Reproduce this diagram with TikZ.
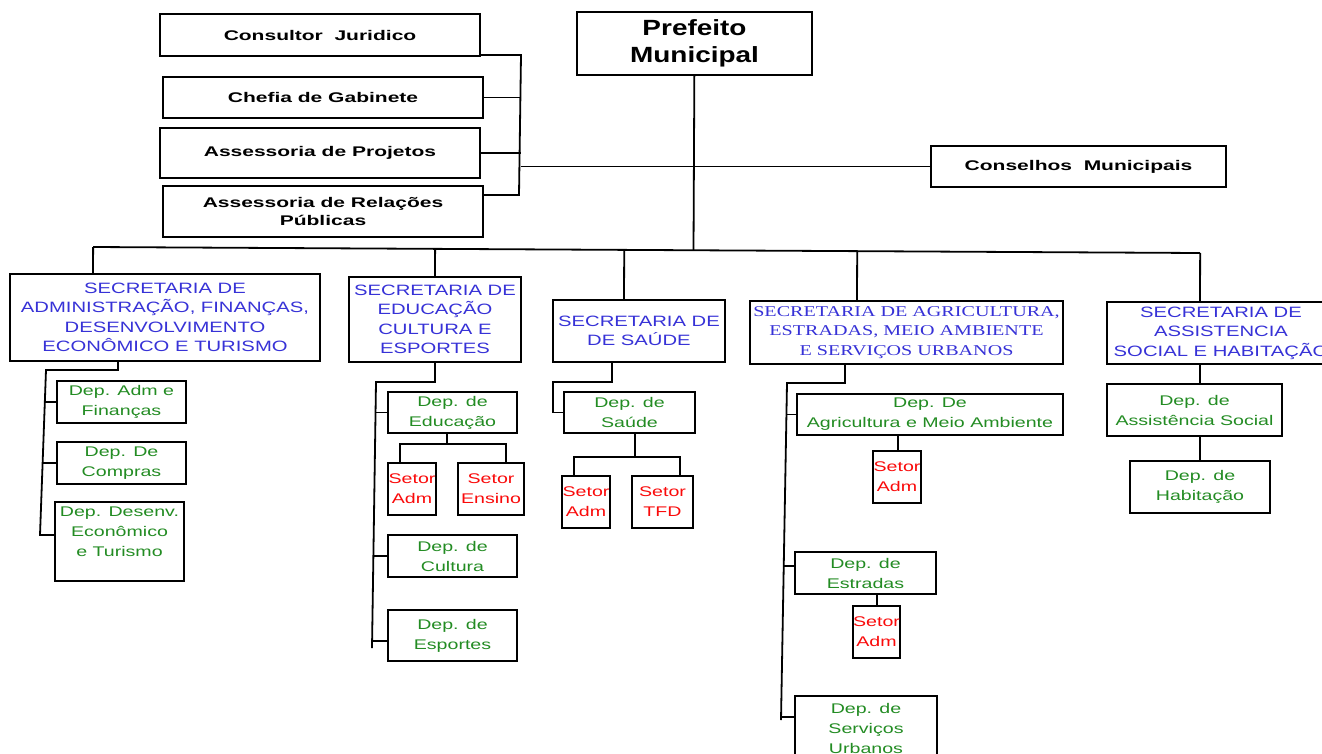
\documentclass[tikz,border=0pt]{standalone}
\usepackage{fontspec}
\setmainfont{Liberation Sans}
\newfontfamily\topfont[FakeStretch=1.5]{Liberation Sans}
\newfontfamily\chieffont[FakeStretch=1.27]{Liberation Sans}
\newfontfamily\secfont[FakeStretch=1.35]{Liberation Sans}
\newfontfamily\agrfont[FakeStretch=1.34]{Liberation Serif}
\newfontfamily\depfont[FakeStretch=1.4]{Liberation Sans}
\usetikzlibrary{calc}
\definecolor{secblue}{RGB}{55,50,215}
\definecolor{depgreen}{RGB}{35,140,35}
\definecolor{setred}{RGB}{250,10,10}
\begin{document}
\begin{tikzpicture}[x=1pt,y=-1pt,line width=1.8pt,
	box/.style={draw,line width=2.1pt,inner sep=0pt,align=center},
	topbox/.style={box,font=\topfont\bfseries\fontsize{14}{18}\selectfont},
	secbox/.style={box,text=secblue,font=\secfont\fontsize{15}{19.5}\selectfont},
	depbox/.style={box,text=depgreen,font=\depfont\fontsize{14}{20}\selectfont},
	setbox/.style={box,text=setred,font=\depfont\fontsize{14}{20}\selectfont}]
	\clip (0,0) rectangle (1322,753);
	\fill[white] (0,0) rectangle (1322,753);
	\node[topbox,minimum width=320,minimum height=42] (juridico) at (320,35) {Consultor\ \ Juridico};
	\node[topbox,minimum width=320,minimum height=41] (gabinete) at (323,97.5) {Chefia de Gabinete};
	\node[topbox,minimum width=320,minimum height=50] (projetos) at (320,153) {Assessoria de Projetos};
	\node[topbox,minimum width=320,minimum height=51] (relacoes) at (323,211.5) {Assessoria de Relações\\Públicas};
	\node[box,font=\chieffont\bfseries\fontsize{22}{27}\selectfont,minimum width=235,minimum height=63] (prefeito) at (694.5,43.5) {Prefeito\\Municipal};
	\node[topbox,minimum width=295,minimum height=41] (conselhos) at (1078.5,166.5) {Conselhos\ \ Municipais};
	\coordinate (brkT) at (521,55);
	\coordinate (brkB) at (519,195);
	\draw (juridico.east |- brkT) -- (brkT) -- (brkB) -- (relacoes.east |- brkB);
	\draw (gabinete) -- (gabinete -| brkT);
	\draw (projetos) -- (projetos -| brkT);
	\draw (brkT |- conselhos) -- (conselhos);
	\coordinate (busL) at (93,247);
	\coordinate (busR) at (1200,253);
	\draw (busL) -- (busR);
	\draw (prefeito) -- ($(busL)!(prefeito.south)!(busR)$);
	\node[secbox,minimum width=310,minimum height=87] (s1) at (165,317.5) {SECRETARIA DE\\ADMINISTRAÇÃO, FINANÇAS,\\DESENVOLVIMENTO\\ECONÔMICO E TURISMO};
	\node[secbox,minimum width=172,minimum height=85] (s2) at (435,319.5) {SECRETARIA DE\\EDUCAÇÃO\\CULTURA E\\ESPORTES};
	\node[secbox,minimum width=172,minimum height=62] (s3) at (639,331) {SECRETARIA DE\\DE SAÚDE};
	\node[secbox,font=\agrfont\fontsize{15}{19.5}\selectfont,minimum width=313,minimum height=63] (s4) at (906.5,332.5) {SECRETARIA DE AGRICULTURA,\\ESTRADAS, MEIO AMBIENTE\\E SERVIÇOS URBANOS};
	\node[secbox,minimum width=228,minimum height=62] (s5) at (1221,333) {SECRETARIA DE\\ASSISTENCIA\\SOCIAL E HABITAÇÃO};
	\foreach \s/\x in {s1/93,s2/435,s3/624,s4/857,s5/1200}
		\draw (\s.north -| \x,0) -- ($(busL)!(\s.north -| \x,0)!(busR)$);
	\node[depbox,minimum width=129,minimum height=42] (adm) at (121.5,402) {Dep. Adm e\\Finanças};
	\node[depbox,minimum width=129,minimum height=42] (compras) at (121.5,463) {Dep. De\\Compras};
	\node[depbox,minimum width=129,minimum height=79] (desenv) at (119.5,541.5) {Dep. Desenv.\\Econômico\\e Turismo\\\mbox{}};
	\draw (s1.south -| 118,0) |- (46,370) -- (40,535) -- (desenv.west |- 0,535);
	\draw (adm.west) -- (adm.west -| 45,0);
	\draw (compras.west) -- (compras.west -| 43,0);
	\node[depbox,minimum width=129,minimum height=41] (educ) at (452.5,412.5) {Dep. de\\Educação};
	\node[setbox,minimum width=48,minimum height=52] (setadm2) at (412,489) {Setor\\Adm};
	\node[setbox,minimum width=66,minimum height=52] (setens) at (491,489) {Setor\\Ensino};
	\node[depbox,minimum width=129,minimum height=42] (cultura) at (452.5,556) {Dep. de\\Cultura};
	\node[depbox,minimum width=129,minimum height=51] (esportes) at (452.5,635.5) {Dep. de\\Esportes};
	\draw (s2.south) |- (376,382) -- (372,648);
	\draw (educ.west) -- (educ.west -| 375,0);
	\draw (cultura.west) -- (cultura.west -| 373,0);
	\draw (esportes.west |- 0,641) -- (372,641);
	\draw (educ.south -| 447,0) -- (447,444);
	\draw (setadm2.north -| 400,0) |- (506,444) -- (setens.north -| 506,0);
	\node[depbox,minimum width=131,minimum height=41] (saude) at (629.5,412.5) {Dep. de\\Saúde};
	\node[setbox,minimum width=48,minimum height=52] (setadm3) at (586,502) {Setor\\Adm};
	\node[setbox,minimum width=61,minimum height=52] (settfd) at (662.5,502) {Setor\\TFD};
	\draw (s3.south -| 612,0) |- (553,382) |- (saude.west);
	\draw (saude.south -| 635,0) -- (635,457);
	\draw (setadm3.north -| 574,0) |- (680,457) -- (settfd.north -| 680,0);
	\node[depbox,minimum width=266,minimum height=41] (agri) at (930,414.5) {Dep. De\\Agricultura e Meio Ambiente};
	\node[setbox,minimum width=48,minimum height=52] (setadm4) at (897,477) {Setor\\Adm};
	\node[depbox,minimum width=141,minimum height=42] (estradas) at (865.5,573) {Dep. de\\Estradas};
	\node[setbox,minimum width=47,minimum height=52] (setadm5) at (876.5,632) {Setor\\Adm};
	\node[depbox,minimum width=142,minimum height=64] (servicos) at (866,728) {Dep. de\\Serviços\\Urbanos};
	\draw (s4.south -| 845,0) |- (787,383) -- (781,720);
	\draw (agri.west) -- (agri.west -| 786,0);
	\draw (estradas.west |- 0,566) -- (784,566);
	\draw (servicos.west |- 0,717) -- (781,717);
	\draw (agri.south -| 898,0) -- (setadm4.north -| 898,0);
	\draw (estradas.south -| 877,0) -- (setadm5.north -| 877,0);
	\node[depbox,minimum width=175,minimum height=52] (asoc) at (1194.5,410) {Dep. de\\Assistência Social};
	\node[depbox,minimum width=140,minimum height=52] (habit) at (1200,487) {Dep. de\\Habitação};
	\draw (s5.south -| 1200,0) -- (asoc.north -| 1200,0);
	\draw (asoc.south -| 1200,0) -- (habit.north -| 1200,0);
\end{tikzpicture}
\end{document}
